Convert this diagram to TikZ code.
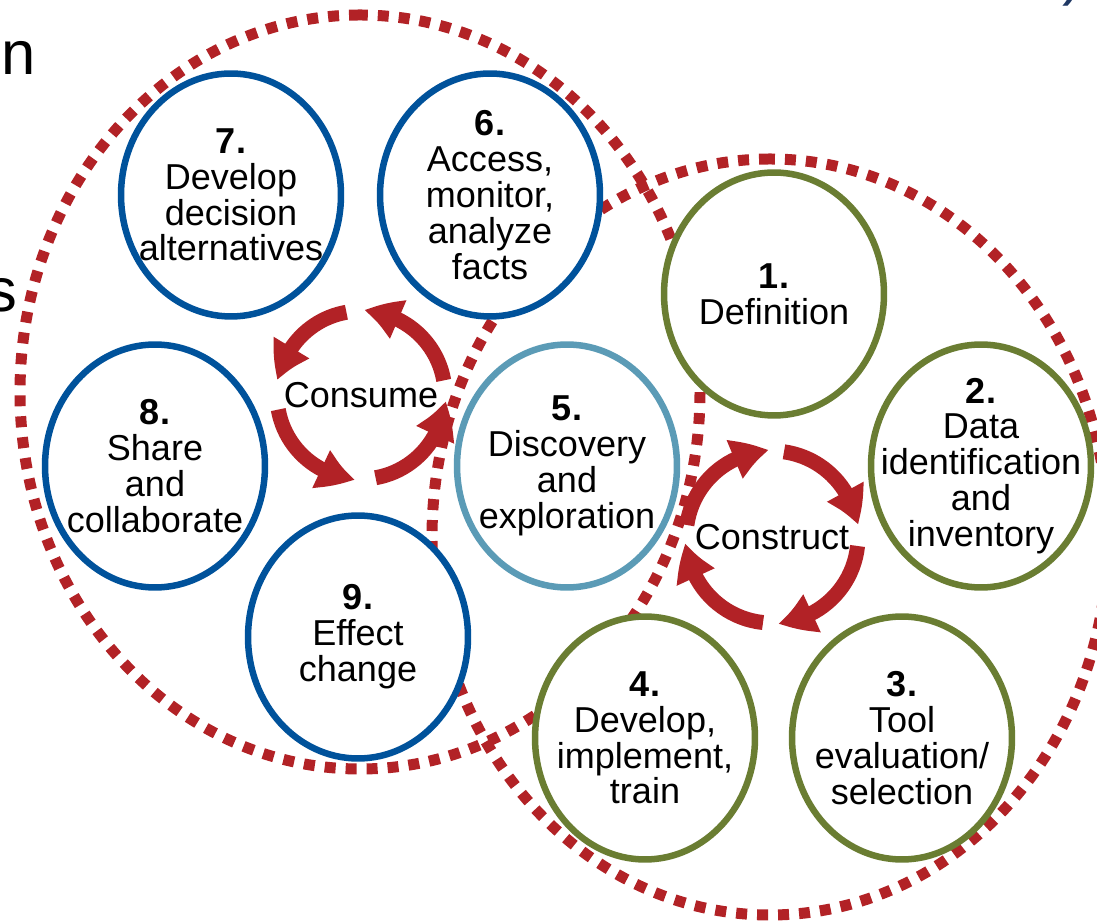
\documentclass[tikz,border=0pt]{standalone}
\usepackage{fontspec}
\setmainfont{Liberation Sans}
\usetikzlibrary{arrows.meta,bending,shapes.geometric}
\definecolor{dotred}{RGB}{178,34,38}
\definecolor{stageblue}{RGB}{0,82,155}
\definecolor{stagegreen}{RGB}{106,125,50}
\definecolor{stagecyan}{RGB}{91,155,182}
\definecolor{navymark}{RGB}{31,56,100}
\begin{document}
\begin{tikzpicture}[x=0.02cm,y=0.02cm,
  bigring/.style={draw=dotred, line width=0.22cm, dash pattern=on 0.22cm off 0.2cm},
  stage/.style={ellipse, line width=0.13cm, fill=white, minimum width=4.4cm, minimum height=4.86cm, inner sep=0pt},
  bluestage/.style={stage, draw=stageblue},
  greenstage/.style={stage, draw=stagegreen},
  cyanstage/.style={stage, draw=stagecyan},
  stagetext/.style={align=center, inner sep=0pt, font=\fontsize{20.5}{20.4}\selectfont},
  cyctext/.style={inner sep=0pt, font=\fontsize{20.5}{20.4}\selectfont},
  cyc/.style={draw=dotred, line width=0.3cm, -{Triangle[width=0.78cm,length=0.72cm,bend]}},
  cuttext/.style={inner sep=0pt, font=\fontsize{35}{40}\selectfont}
]
\useasboundingbox (0,0) rectangle (1097,922);
\clip (0,0) rectangle (1097,922);

% cut-off text fragments at the edges
\node[cuttext, anchor=base east] (fragn) at (36,847) {n};
\node[cuttext, anchor=base east] (frags) at (18,610) {s};
\node[cuttext, anchor=south, text=navymark] (fragr) at (1073,915) {)};

% large dotted ellipses
\coordinate (cons) at (361,527);
\coordinate (cstr) at (772,385);
\draw[bigring] (360,907) arc[start angle=90, end angle=450, x radius=340, y radius=377];
\draw[bigring] (770,763) arc[start angle=90, end angle=450, x radius=338, y radius=378];

% stages
\node[bluestage]  (c7) at (231,727) {};
\node[bluestage]  (c6) at (490,727) {};
\node[greenstage] (c1) at (774,628) {};
\node[greenstage] (c2) at (981,456) {};
\node[cyanstage]  (c5) at (567,456) {};
\node[bluestage]  (c8) at (155,456) {};
\node[bluestage]  (c9) at (358,285) {};
\node[greenstage] (c4) at (645,184) {};
\node[greenstage] (c3) at (902,184) {};

% cycle arrows: Consume (counter-clockwise)
\foreach \s/\e in {10/88, 100/170, 190/266, 280/356}
  \draw[cyc] ([shift={(\s:84)}]cons) arc[start angle=\s, end angle=\e, radius=84];
% cycle arrows: Construct (clockwise)
\foreach \s/\e in {172/92, 82/8, -6/-86, -96/-176}
  \draw[cyc] ([shift={(\s:86)}]cstr) arc[start angle=\s, end angle=\e, radius=86];

\node[cyctext] (tcons) at (cons) {Consume};
\node[cyctext] (tcstr) at (cstr) {Construct};

% stage texts
\node[stagetext] (t7) at (c7) {\textbf{7.}\\Develop\\decision\\alternatives};
\node[stagetext] (t6) at (c6) {\textbf{6.}\\Access,\\monitor,\\analyze\\facts};
\node[stagetext] (t1) at (c1) {\textbf{1.}\\Definition};
\node[stagetext] (t2) at (c2) {\textbf{2.}\\Data\\identification\\and\\inventory};
\node[stagetext] (t5) at (c5) {\textbf{5.}\\Discovery\\and\\exploration};
\node[stagetext] (t8) at (c8) {\textbf{8.}\\Share\\and\\collaborate};
\node[stagetext] (t9) at (c9) {\textbf{9.}\\Effect\\change};
\node[stagetext] (t4) at (c4) {\textbf{4.}\\Develop,\\implement,\\train};
\node[stagetext] (t3) at (c3) {\textbf{3.}\\Tool\\evaluation/\\selection};
\end{tikzpicture}
\end{document}
